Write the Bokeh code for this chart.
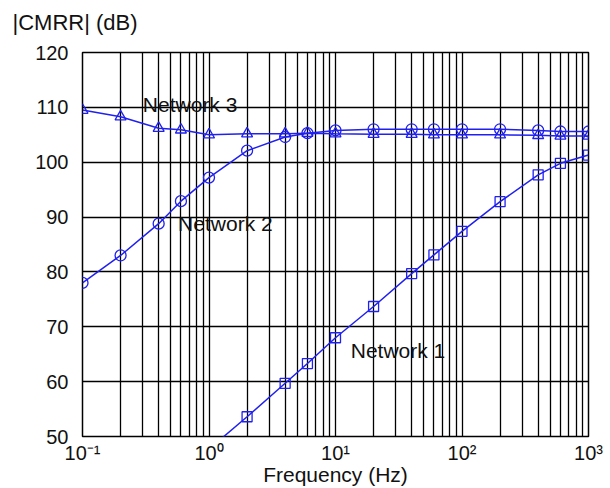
from bokeh.plotting import figure
from bokeh.models import FixedTicker, Label
from bokeh.embed import file_html
from bokeh.resources import INLINE

# ---- data ----
freq = [0.1, 0.2, 0.4, 0.6, 1, 2, 4, 6, 10, 20, 40, 60, 100, 200, 400, 600, 1000]
freq_n1 = [1, 2, 4, 6, 10, 20, 40, 60, 100, 200, 400, 600, 1000]
cmrr_n1 = [47.7, 53.6, 59.7, 63.3, 68.0, 73.7, 79.7, 83.1, 87.4, 92.8, 97.7, 99.8, 101.3]
cmrr_n2 = [78.0, 83.0, 88.8, 92.9, 97.2, 102.1, 104.6, 105.3, 105.8, 106.0, 106.0, 106.0,
           106.0, 106.0, 105.8, 105.6, 105.6]
cmrr_n3 = [109.5, 108.3, 106.2, 105.9, 105.0, 105.2, 105.2, 105.3, 105.2, 105.1, 105.1,
           105.0, 105.0, 105.0, 104.9, 104.8, 104.8]
x_major = [0.1, 1, 10, 100, 1000]
x_labels = {0.1: "10\u207b\u00b9", 1: "10\u2070", 10: "10\u00b9", 100: "10\u00b2", 1000: "10\u00b3"}
y_ticks = [50, 60, 70, 80, 90, 100, 110, 120]
series_labels = ["Network 1", "Network 2", "Network 3"]
x_title = "Frequency (Hz)"
y_title = "|CMRR| (dB)"

FONT = "Liberation Sans"
BLUE = "#2020f0"

p = figure(width=610, height=500, x_axis_type="log", x_range=(0.1, 1000), y_range=(50, 120),
           output_backend="svg", toolbar_location=None,
           min_border_left=82, min_border_right=22, min_border_top=64, min_border_bottom=51)
p.margin = (-12, 0, 0, 0)

x_minor = [m * d for d in [0.1, 1, 10, 100] for m in range(2, 10)]
p.xaxis.ticker = FixedTicker(ticks=x_major, minor_ticks=x_minor)
p.xaxis.major_label_overrides = x_labels
p.yaxis.ticker = FixedTicker(ticks=y_ticks)

for ax in (p.xaxis[0], p.yaxis[0]):
    ax.axis_line_color = None
    ax.major_tick_line_color = None
    ax.minor_tick_line_color = None
    ax.major_label_text_font = FONT
    ax.major_label_text_font_size = "20px"
    ax.major_label_text_color = "#111111"
p.xaxis.major_label_standoff = -1
p.yaxis.major_label_standoff = 8

p.xaxis.axis_label = x_title
p.xaxis.axis_label_text_font = FONT
p.xaxis.axis_label_text_font_size = "21px"
p.xaxis.axis_label_text_font_style = "normal"
p.xaxis.axis_label_text_color = "#111111"
p.xaxis.axis_label_standoff = -4

p.title.text = y_title
p.title.text_font = FONT
p.title.text_font_size = "22px"
p.title.text_font_style = "normal"
p.title.text_color = "#111111"
p.title.align = "left"
p.title.offset = -70
p.title.standoff = 36

p.xgrid.grid_line_color = "black"
p.xgrid.grid_line_width = 1.3
p.xgrid.minor_grid_line_color = "black"
p.xgrid.minor_grid_line_width = 1.3
p.ygrid.grid_line_color = "black"
p.ygrid.grid_line_width = 1.3
p.outline_line_color = "black"
p.outline_line_width = 1.5

p.line(freq_n1, cmrr_n1, line_color=BLUE, line_width=1.5)
p.scatter(freq_n1, cmrr_n1, marker="square", size=10, line_color=BLUE, fill_color=None, line_width=1.3)
p.line(freq, cmrr_n2, line_color=BLUE, line_width=1.5)
p.scatter(freq, cmrr_n2, marker="circle", size=11, line_color=BLUE, fill_color=None, line_width=1.3)
p.line(freq, cmrr_n3, line_color=BLUE, line_width=1.5)
p.scatter(freq, cmrr_n3, marker="triangle", size=11, line_color=BLUE, fill_color=None, line_width=1.3)

label_pos = [(13.2, 65.6), (0.57, 88.9), (0.3, 110.6)]
for txt, (lx, ly) in zip(series_labels, label_pos):
    p.add_layout(Label(x=lx, y=ly, text=txt, text_font=FONT, text_font_size="21px",
                       text_color="#111111", text_baseline="middle"))

open("out.html", "w").write(file_html(p, INLINE))
